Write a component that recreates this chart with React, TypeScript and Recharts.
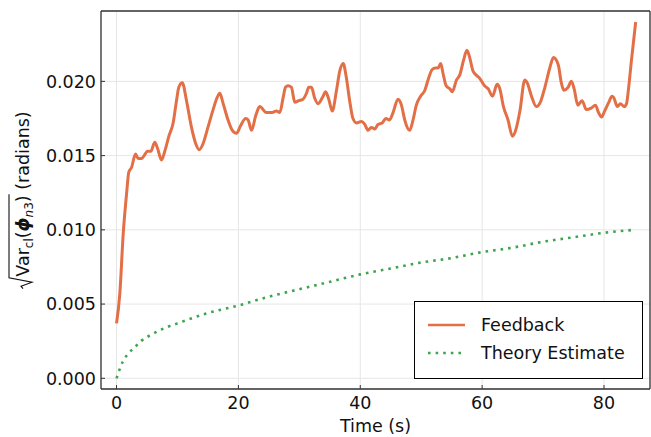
import { useLayoutEffect, useRef, useState } from "react";
import { LineChart, Line, XAxis, YAxis, CartesianGrid, Legend } from "recharts";

const FONT = "DejaVu Sans, sans-serif";
const ORANGE = "#E36F47";
const GREEN = "#3EA44E";
const SPINE = "#333";

// measured phase error std under feedback
const feedbackTime = [
  0, 0.54, 1.09, 1.64, 2.02, 2.46, 3.12, 3.55, 4.1, 4.53, 5.08, 5.63, 6.28, 6.72, 7.38, 7.92,
  8.58, 9.29, 9.84, 10.22, 10.8, 11.48, 12.3, 13.0, 13.56, 14.2, 15.0, 15.85, 16.5, 16.95,
  17.5, 18.3, 19.0, 19.7, 20.34, 21.2, 21.6, 22.15, 22.85, 23.5, 24.6, 25.4, 26.25, 26.8,
  27.34, 27.73, 28.15, 28.7, 29.25, 29.9, 30.6, 31.17, 31.55, 32.0, 32.5, 33.07, 33.9, 34.3,
  34.83, 35.4, 36.1, 36.64, 37.2, 37.7, 38.26, 38.8, 39.4, 40.2, 40.74, 41.28, 41.8, 42.4,
  42.9, 43.6, 44.2, 44.8, 45.38, 46.2, 46.76, 47.3, 48.1, 48.66, 49.2, 49.9, 50.6, 51.2,
  51.8, 52.3, 52.77, 53.2, 53.6, 54.1, 54.7, 55.1, 55.8, 56.3, 57.0, 57.5, 57.96, 58.5,
  59.1, 59.6, 60.4, 61.0, 61.7, 62.45, 62.9, 63.5, 64.25, 64.97, 65.5, 66.2, 67.0, 67.4,
  68.1, 68.9, 69.56, 70.3, 71.1, 71.7, 72.5, 73.0, 73.4, 74.1, 74.65, 75.1, 75.7, 76.4,
  77.1, 77.9, 78.6, 79.1, 79.6, 80.1, 80.8, 81.3, 81.6, 82.2, 82.7, 83.3, 83.7, 84.05,
  84.5, 85.2,
];
const feedbackValue = [
  0.0037, 0.0057, 0.0097, 0.0124, 0.0139, 0.0142, 0.0151, 0.0148, 0.0148, 0.015, 0.0153,
  0.0153, 0.0159, 0.0155, 0.0147, 0.0153, 0.0163, 0.0172, 0.0187, 0.0196, 0.0199, 0.0187,
  0.0169, 0.0158, 0.0154, 0.0158, 0.0169, 0.0181, 0.0189, 0.0192, 0.0185, 0.0174, 0.0167,
  0.0165, 0.017, 0.0175, 0.0174, 0.0167, 0.0177, 0.0183, 0.0179, 0.0179, 0.018, 0.0179,
  0.0189, 0.0196, 0.0197, 0.0196, 0.0186, 0.0187, 0.0188, 0.0192, 0.0196, 0.0196, 0.0189,
  0.0185, 0.019, 0.0193, 0.0188, 0.018, 0.0194, 0.0207, 0.0212, 0.0203, 0.0187, 0.0175,
  0.0172, 0.0173, 0.0171, 0.0167, 0.0169, 0.0168, 0.0171, 0.0172, 0.0175, 0.0174, 0.0179,
  0.0188, 0.0184, 0.0174, 0.0167, 0.0174, 0.0184, 0.019, 0.0194, 0.0202, 0.0208, 0.0209,
  0.0209, 0.0212, 0.0205, 0.0197, 0.0195, 0.0193, 0.0201, 0.0204, 0.0215, 0.0221, 0.0216,
  0.0207, 0.0204, 0.0202, 0.0197, 0.0195, 0.019, 0.0198, 0.0195, 0.0183, 0.0174, 0.0163,
  0.0167, 0.018, 0.0201, 0.0199, 0.019, 0.0183, 0.0186, 0.0196, 0.0209, 0.0216, 0.0211,
  0.0199, 0.0194, 0.0196, 0.02, 0.0195, 0.0184, 0.0187, 0.0181, 0.0182, 0.0184, 0.0179,
  0.0176, 0.018, 0.0186, 0.019, 0.0189, 0.0183, 0.0185, 0.0183, 0.0185, 0.0196, 0.0214,
  0.024,
];

// predicted std from the noise model
const theoryTime = [0, 1, 2, 3, 4, 6, 8, 10, 15, 20, 25, 30, 35, 40, 45, 50, 55, 60, 65, 70, 75, 80, 85];
const theoryValue = [
  0, 0.0011, 0.0017, 0.0021, 0.0025, 0.003, 0.0034, 0.0037, 0.0044, 0.0049, 0.0055, 0.006,
  0.0065, 0.007, 0.0074, 0.0078, 0.0081, 0.0085, 0.0088, 0.0092, 0.0095, 0.0098, 0.01,
];

const timeTicks = [0, 20, 40, 60, 80];
const valueTicks = [0, 0.005, 0.01, 0.015, 0.02];
const timeDomain = [-2.55, 87.55];
const valueDomain = [-0.00072, 0.02474];

const feedbackData = feedbackTime.map((t, i) => ({ t, v: feedbackValue[i] }));
const theoryData = theoryTime.map((t, i) => ({ t, v: theoryValue[i] }));

const tickStyle = { fill: "#111", fontSize: 17.5, fontFamily: FONT };

// rotated label with a drawn radical sign; bar length is measured from the rendered text
function YLabelText({ cy }: { cy: number }) {
  const textRef = useRef<SVGTextElement>(null);
  const [m, setM] = useState({ total: 166, inner: 82 });
  useLayoutEffect(() => {
    const el = textRef.current;
    if (!el) return;
    const total = el.getComputedTextLength();
    const inner = el.getEndPositionOfChar(9).x - el.getStartPositionOfChar(0).x;
    setM({ total, inner });
  }, []);
  const rad = 12;
  const u0 = -(rad + m.total) / 2;
  const tx = u0 + rad;
  const bar = -20;
  return (
    <g transform={`translate(29, ${cy}) rotate(-90)`}>
      <path
        d={`M${u0} -6 L${u0 + 2.5} -8 L${u0 + 6.5} 3 L${u0 + 11} ${bar} L${tx + m.inner + 1} ${bar}`}
        fill="none"
        stroke="#111"
        strokeWidth={1.1}
      />
      <text ref={textRef} x={tx} y={0} fontFamily={FONT} fontSize={17.5} fill="#111">
        Var
        <tspan fontSize={12} dy={4}>cl</tspan>
        <tspan dy={-4}>(</tspan>
        <tspan fontStyle="italic" fontWeight="bold">ϕ</tspan>
        <tspan fontSize={12} dy={4} fontStyle="italic">n</tspan>
        <tspan fontSize={12}>3</tspan>
        <tspan dy={-4}>)</tspan>
        <tspan>{" (radians)"}</tspan>
      </text>
    </g>
  );
}

function YLabel({ viewBox }: any) {
  return <YLabelText cy={viewBox.y + viewBox.height / 2} />;
}

function XLabel({ viewBox }: any) {
  return (
    <text x={viewBox.x + viewBox.width / 2} y={432} textAnchor="middle" fontFamily={FONT} fontSize={17.5} fill="#111">
      Time (s)
    </text>
  );
}

function LegendBox({ payload }: any) {
  const items = payload || [];
  return (
    <div
      style={{
        position: "relative",
        width: 229,
        height: 78,
        boxSizing: "border-box",
        border: "1.3px solid #000",
        background: "#fff",
        fontFamily: FONT,
        fontSize: 17.5,
        color: "#111",
      }}
    >
      {items.map((entry: any, i: number) => {
        const cy = 23 + i * 28;
        const dash = entry.payload?.strokeDasharray;
        return (
          <div key={entry.value}>
            <svg width={40} height={8} style={{ position: "absolute", left: 13, top: cy - 4 }}>
              <line x1={0} x2={37} y1={4} y2={4} stroke={entry.color} strokeWidth={2.6} strokeDasharray={dash} />
            </svg>
            <span style={{ position: "absolute", left: 66, top: cy - 11, lineHeight: "22px", whiteSpace: "nowrap" }}>
              {entry.value}
            </span>
          </div>
        );
      })}
    </div>
  );
}

export default function App() {
  return (
    <div style={{ position: "absolute", left: 0, top: 0, width: 651, height: 437, background: "#fff" }}>
      <LineChart width={651} height={437} margin={{ top: 10, right: 0, bottom: 0, left: 0 }}>
        <CartesianGrid stroke="#e6e6e6" strokeWidth={1} />
        <XAxis
          type="number"
          dataKey="t"
          domain={timeDomain}
          ticks={timeTicks}
          allowDataOverflow
          height={48}
          tick={tickStyle}
          tickSize={-4}
          tickMargin={12}
          axisLine={{ stroke: SPINE, strokeWidth: 1.3 }}
          tickLine={{ stroke: SPINE }}
          label={XLabel}
        />
        <XAxis
          xAxisId="top"
          orientation="top"
          type="number"
          domain={timeDomain}
          ticks={timeTicks}
          allowDataOverflow
          height={1}
          tick={false}
          tickSize={-4}
          axisLine={{ stroke: SPINE, strokeWidth: 1.3 }}
          tickLine={{ stroke: SPINE }}
        />
        <YAxis
          type="number"
          domain={valueDomain}
          ticks={valueTicks}
          allowDataOverflow
          width={101}
          tick={tickStyle}
          tickFormatter={(v: number) => v.toFixed(3)}
          tickSize={-4}
          tickMargin={9}
          axisLine={{ stroke: SPINE, strokeWidth: 1.3 }}
          tickLine={{ stroke: SPINE }}
          label={YLabel}
        />
        <YAxis
          yAxisId="right"
          orientation="right"
          type="number"
          domain={valueDomain}
          ticks={valueTicks}
          allowDataOverflow
          width={1}
          tick={false}
          tickSize={-4}
          axisLine={{ stroke: SPINE, strokeWidth: 1.3 }}
          tickLine={{ stroke: SPINE }}
        />
        <Line
          data={feedbackData}
          dataKey="v"
          name="Feedback"
          type="monotone"
          stroke={ORANGE}
          strokeWidth={3}
          dot={false}
          activeDot={false}
          isAnimationActive={false}
        />
        <Line
          data={theoryData}
          dataKey="v"
          name="Theory Estimate"
          type="monotone"
          stroke={GREEN}
          strokeWidth={2.6}
          strokeDasharray="2.6 5"
          dot={false}
          activeDot={false}
          isAnimationActive={false}
        />
        <Legend
          layout="vertical"
          align="center"
          verticalAlign="middle"
          wrapperStyle={{ left: 414, top: 301, width: 229, height: 78 }}
          content={LegendBox}
        />
      </LineChart>
    </div>
  );
}
